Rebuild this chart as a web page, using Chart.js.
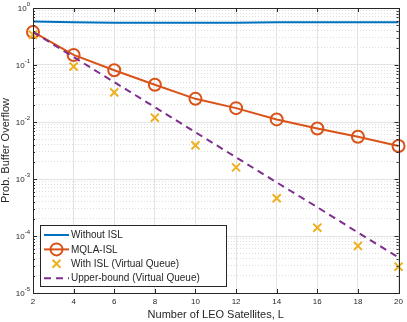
<!DOCTYPE html>
<html>
<head>
<meta charset="utf-8">
<script src="https://cdn.jsdelivr.net/npm/chart.js@4/dist/chart.umd.min.js"></script>
<style>
  html, body { margin: 0; padding: 0; background: #fff; }
  canvas { display: block; }
</style>
</head>
<body>
<canvas id="chart" width="407" height="322"></canvas>
<script>
// number of LEO satellites
const satellites = [2, 4, 6, 8, 10, 12, 14, 16, 18, 20];
// probability of buffer overflow, per scheme
const withoutIsl = [0.58, 0.56, 0.55, 0.55, 0.55, 0.55, 0.56, 0.56, 0.56, 0.56];
const mqlaIsl = [0.38, 0.150, 0.081, 0.045, 0.0255, 0.0175, 0.0111, 0.0077, 0.0055, 0.0038];
const withIslVq = [0.34, 0.094, 0.033, 0.0119, 0.0039, 0.0016, 0.00046, 0.00014, 0.000067, 0.000029];
const upperBoundVq = [0.38, 0.138, 0.050, 0.0182, 0.0066, 0.0024, 0.00087, 0.00032, 0.000115, 0.000042];

const seriesLabels = ['Without ISL', 'MQLA-ISL', 'With ISL (Virtual Queue)', 'Upper-bound (Virtual Queue)'];
const xTicks = [2, 4, 6, 8, 10, 12, 14, 16, 18, 20];
const yExponents = [0, -1, -2, -3, -4, -5];

const AXIS = '#262626';
const FONT = '"Liberation Sans", Arial, sans-serif';

const toPoints = arr => satellites.map((x, i) => ({ x: x, y: arr[i] }));
const isMajor = v => Math.abs(Math.log10(v) - Math.round(Math.log10(v))) < 1e-9;

// box, inward ticks, superscript y labels, legend
const matlabLook = {
  id: 'matlabLook',
  afterDraw(chart) {
    const { ctx, chartArea: a, scales: { x, y } } = chart;
    ctx.save();

    ctx.strokeStyle = AXIS;
    ctx.lineWidth = 1;
    ctx.strokeRect(Math.round(a.left) + 0.5, Math.round(a.top) + 0.5,
      Math.round(a.right - a.left), Math.round(a.bottom - a.top));

    ctx.beginPath();
    xTicks.forEach(v => {
      const px = Math.round(x.getPixelForValue(v)) + 0.5;
      ctx.moveTo(px, a.bottom); ctx.lineTo(px, a.bottom - 4);
      ctx.moveTo(px, a.top); ctx.lineTo(px, a.top + 4);
    });
    y.ticks.forEach(t => {
      const py = Math.round(y.getPixelForValue(t.value)) + 0.5;
      const len = isMajor(t.value) ? 4 : 2;
      ctx.moveTo(a.left, py); ctx.lineTo(a.left + len, py);
      ctx.moveTo(a.right, py); ctx.lineTo(a.right - len, py);
    });
    ctx.stroke();

    // y tick labels 10^n
    ctx.fillStyle = AXIS;
    ctx.textBaseline = 'middle';
    yExponents.forEach(e => {
      const py = y.getPixelForValue(Math.pow(10, e));
      const exp = String(e);
      ctx.font = '6px ' + FONT;
      const ew = ctx.measureText(exp).width;
      ctx.textAlign = 'left';
      const right = a.left - 3;
      ctx.fillText(exp, right - ew, py - 4);
      ctx.font = '8px ' + FONT;
      ctx.textAlign = 'right';
      ctx.fillText('10', right - ew, py + 1);
    });

    // legend
    const lx = 40.5, ly = 225.5, lw = 186, lh = 61;
    ctx.fillStyle = '#fff';
    ctx.fillRect(lx, ly, lw, lh);
    ctx.strokeStyle = AXIS;
    ctx.lineWidth = 1;
    ctx.strokeRect(lx, ly, lw, lh);
    ctx.font = '10px ' + FONT;
    ctx.textAlign = 'left';
    ctx.textBaseline = 'middle';
    chart.data.datasets.forEach((ds, i) => {
      const ry = 235 + i * 14.4;
      const x0 = 44, x1 = 69, xm = (x0 + x1) / 2;
      ctx.strokeStyle = ds.borderColor;
      ctx.lineWidth = 2;
      if (ds.showLine !== false) {
        ctx.setLineDash(ds.borderDash || []);
        ctx.beginPath(); ctx.moveTo(x0, ry); ctx.lineTo(x1, ry); ctx.stroke();
        ctx.setLineDash([]);
      }
      if (ds.pointStyle === 'circle') {
        ctx.beginPath(); ctx.arc(xm, ry, 6, 0, Math.PI * 2); ctx.stroke();
      } else if (ds.pointStyle === 'crossRot') {
        const r = 4;
        ctx.beginPath();
        ctx.moveTo(xm - r, ry - r); ctx.lineTo(xm + r, ry + r);
        ctx.moveTo(xm - r, ry + r); ctx.lineTo(xm + r, ry - r);
        ctx.stroke();
      }
      ctx.fillStyle = AXIS;
      ctx.fillText(ds.label, 71, ry + 0.5);
    });
    ctx.restore();
  }
};

new Chart(document.getElementById('chart'), {
  type: 'line',
  data: {
    datasets: [
      {
        label: seriesLabels[0],
        data: toPoints(withoutIsl),
        borderColor: '#0072BD',
        borderWidth: 2,
        pointRadius: 0,
        order: 4
      },
      {
        label: seriesLabels[1],
        data: toPoints(mqlaIsl),
        borderColor: '#D95319',
        borderWidth: 2,
        pointStyle: 'circle',
        pointRadius: 6,
        pointBorderWidth: 2,
        pointBorderColor: '#D95319',
        pointBackgroundColor: 'rgba(0,0,0,0)',
        clip: false,
        order: 3
      },
      {
        label: seriesLabels[2],
        data: toPoints(withIslVq),
        borderColor: '#EDB120',
        showLine: false,
        pointStyle: 'crossRot',
        pointRadius: 5.7,
        pointBorderWidth: 2,
        pointBorderColor: '#EDB120',
        clip: false,
        order: 2
      },
      {
        label: seriesLabels[3],
        data: toPoints(upperBoundVq),
        borderColor: '#7E2F8E',
        borderWidth: 2,
        borderDash: [7, 5],
        pointRadius: 0,
        order: 1
      }
    ]
  },
  options: {
    responsive: false,
    animation: false,
    layout: { padding: { top: 5, right: 8, left: 0, bottom: 0 } },
    plugins: {
      legend: { display: false },
      tooltip: { enabled: false }
    },
    scales: {
      x: {
        type: 'linear',
        min: 2,
        max: 20,
        afterFit: s => { s.height = 29; },
        afterBuildTicks: s => { s.ticks = xTicks.map(v => ({ value: v })); },
        ticks: {
          padding: 4,
          color: AXIS,
          font: { family: FONT, size: 8 },
          maxRotation: 0,
          autoSkip: false
        },
        grid: { color: '#e3e3e3', lineWidth: 1, drawTicks: false },
        border: { display: false },
        title: {
          display: true,
          text: 'Number of LEO Satellites, L',
          color: AXIS,
          font: { family: FONT, size: 11 },
          padding: { top: 0, bottom: 0 }
        }
      },
      y: {
        type: 'logarithmic',
        min: 1e-5,
        max: 1,
        afterFit: s => { s.width = 33; },
        afterBuildTicks: s => {
          const ticks = [];
          for (let e = -5; e < 0; e++) {
            for (let k = 1; k <= 9; k++) {
              ticks.push({ value: k * Math.pow(10, e), major: k === 1 });
            }
          }
          ticks.push({ value: 1, major: true });
          s.ticks = ticks;
        },
        ticks: { display: false, autoSkip: false },
        grid: {
          drawTicks: false,
          color: ctx => (ctx.tick && isMajor(ctx.tick.value)) ? '#e3e3e3' : '#dedede',
          lineWidth: 1
        },
        border: {
          display: false,
          dash: ctx => (ctx.tick && isMajor(ctx.tick.value)) ? [] : [1, 2]
        },
        title: {
          display: true,
          text: 'Prob. Buffer Overflow',
          color: AXIS,
          font: { family: FONT, size: 11, lineHeight: 1 },
          padding: { top: 0, bottom: 0 }
        }
      }
    }
  },
  plugins: [matlabLook]
});
</script>
</body>
</html>
